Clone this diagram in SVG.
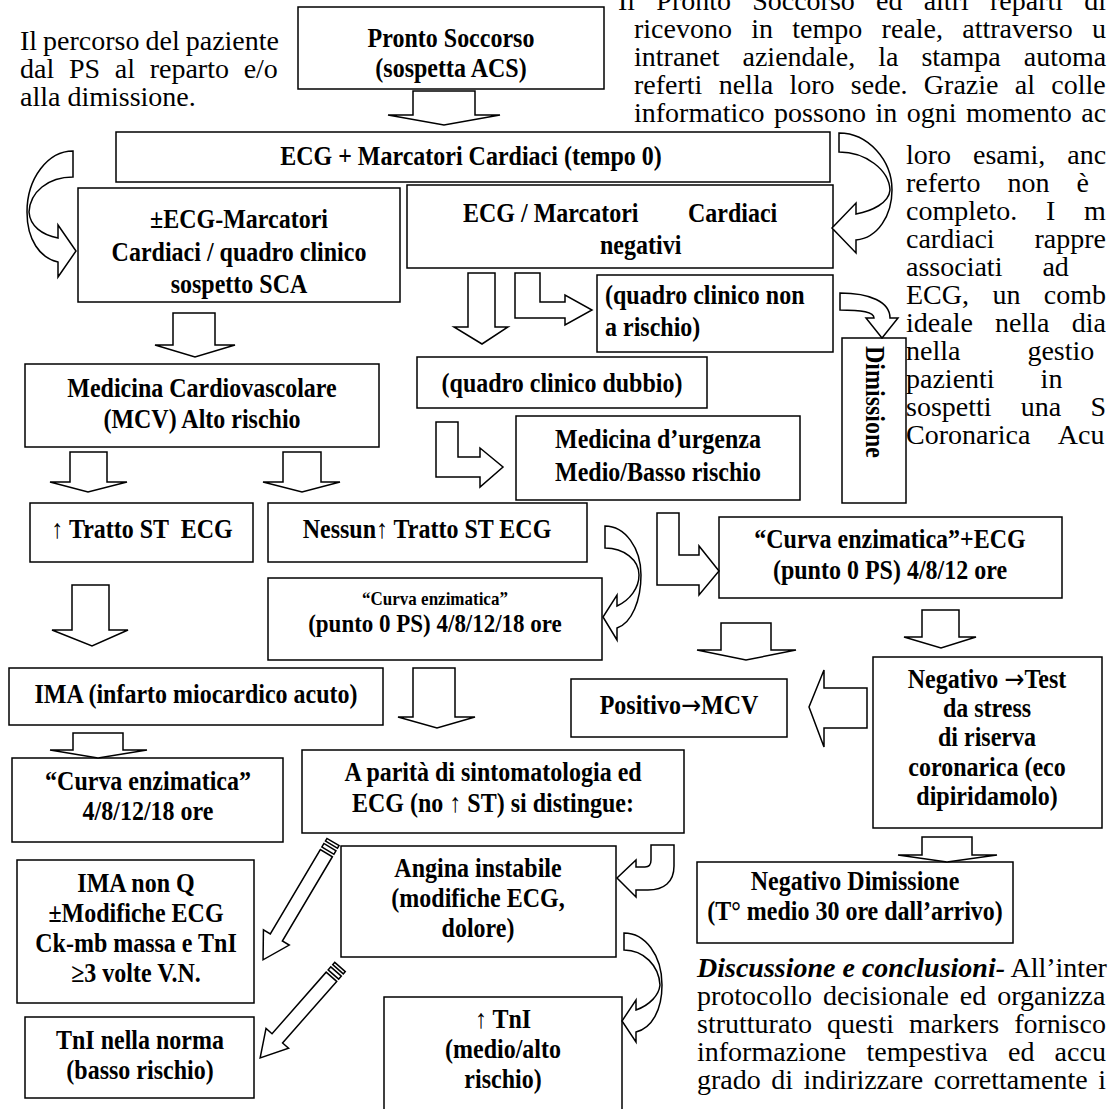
<svg xmlns="http://www.w3.org/2000/svg" width="1108" height="1109" viewBox="0 0 1108 1109">
<style>
.b{fill:#fff;stroke:#000;stroke-width:1.5}
.a{fill:#fff;stroke:#000;stroke-width:1.5;stroke-linejoin:miter}
.t{font-family:"Liberation Serif","Times New Roman",serif;font-weight:bold;font-size:24px;text-anchor:middle;fill:#000}
.l{text-anchor:start}
.p{font-family:"Liberation Serif","Times New Roman",serif;font-size:28px;fill:#000}
.ar{font-family:"DejaVu Sans",sans-serif;font-weight:normal}
</style>
<rect width="1108" height="1109" fill="#fff"/>
<g id="prose">
<text class="p" x="20" y="50" word-spacing="-1">Il percorso del paziente</text>
<text class="p" x="20" y="78" word-spacing="7.7">dal PS al reparto e/o</text>
<text class="p" x="20" y="106">alla dimissione.</text>
<text class="p" x="618" y="10" word-spacing="14.2">Il Pronto Soccorso ed altri reparti di</text>
<text class="p" x="634" y="38" word-spacing="12.3">ricevono in tempo reale, attraverso u</text>
<text class="p" x="634" y="66" word-spacing="16">intranet aziendale, la stampa automa</text>
<text class="p" x="634" y="94" word-spacing="9.3">referti nella loro sede. Grazie al colle</text>
<text class="p" x="634" y="122" word-spacing="2.5">informatico possono in ogni momento ac</text>
<text class="p" x="906" y="164" word-spacing="14.9">loro esami, anc</text>
<text class="p" x="906" y="192" word-spacing="20">referto non è</text>
<text class="p" x="906" y="220" word-spacing="21.8">completo. I m</text>
<text class="p" x="906" y="248" word-spacing="32.9">cardiaci rappre</text>
<text class="p" x="906" y="276" word-spacing="33">associati ad</text>
<text class="p" x="906" y="304" word-spacing="16.4">ECG, un comb</text>
<text class="p" x="906" y="332" word-spacing="15.2">ideale nella dia</text>
<text class="p" x="906" y="360" word-spacing="60">nella gestio</text>
<text class="p" x="906" y="388" word-spacing="39">pazienti in</text>
<text class="p" x="906" y="416" word-spacing="22.2">sospetti una S</text>
<text class="p" x="906" y="444" word-spacing="22">Coronarica Acu</text>
<text class="p" x="697" y="977"><tspan font-weight="bold" font-style="italic">Discussione e conclusioni-</tspan> All’inter</text>
<text class="p" x="697" y="1005" word-spacing="3.9">protocollo decisionale ed organizza</text>
<text class="p" x="697" y="1033" word-spacing="8">strutturato questi markers fornisco</text>
<text class="p" x="697" y="1061" word-spacing="13.2">informazione tempestiva ed accu</text>
<text class="p" x="697" y="1089" word-spacing="3.5">grado di indirizzare correttamente i</text>
</g>
<g id="nodes">
<g id="n-pronto"><rect class="b" x="298" y="7" width="306" height="82"/><text class="t" transform="translate(451,47) scale(1,1.1)">Pronto Soccorso</text><text class="t" transform="translate(451,77) scale(1,1.1)">(sospetta ACS)</text></g>
<g id="n-ecg0"><rect class="b" x="116" y="132" width="714" height="50"/><text class="t" transform="translate(471,165) scale(1,1.1)">ECG + Marcatori Cardiaci (tempo 0)</text></g>
<g id="n-sca"><rect class="b" x="78" y="188" width="322" height="114"/><text class="t" transform="translate(239,228) scale(1,1.1)">±ECG-Marcatori</text><text class="t" transform="translate(239,261) scale(1,1.1)">Cardiaci / quadro clinico</text><text class="t" transform="translate(239,293) scale(1,1.1)">sospetto SCA</text></g>
<g id="n-neg"><rect class="b" x="407" y="185" width="426" height="83"/><text class="t l" transform="translate(463,222) scale(1,1.1)">ECG / Marcatori</text><text class="t l" transform="translate(688,222) scale(1,1.1)">Cardiaci</text><text class="t l" transform="translate(600,254) scale(1,1.1)">negativi</text></g>
<g id="n-nonrischio"><rect class="b" x="597" y="275" width="236" height="77"/><text class="t l" transform="translate(605,304) scale(1,1.1)">(quadro clinico non</text><text class="t l" transform="translate(605,336) scale(1,1.1)">a rischio)</text></g>
<g id="n-dimissione"><rect class="b" x="842" y="338" width="64" height="165"/><text class="t" transform="translate(874,402) rotate(90) translate(0,8) scale(1,1.1)">Dimissione</text></g>
<g id="n-dubbio"><rect class="b" x="417" y="357" width="290" height="51"/><text class="t" transform="translate(562,392) scale(1,1.1)">(quadro clinico dubbio)</text></g>
<g id="n-mcv"><rect class="b" x="25" y="364" width="354" height="83"/><text class="t" transform="translate(202,397) scale(1,1.1)">Medicina Cardiovascolare</text><text class="t" transform="translate(202,428) scale(1,1.1)">(MCV) Alto rischio</text></g>
<g id="n-murg"><rect class="b" x="516" y="416" width="284" height="84"/><text class="t" transform="translate(658,448) scale(1,1.1)">Medicina d’urgenza</text><text class="t" transform="translate(658,481) scale(1,1.1)">Medio/Basso rischio</text></g>
<g id="n-stup"><rect class="b" x="30" y="503" width="223" height="59"/><text class="t" transform="translate(142,538) scale(1,1.1)" xml:space="preserve">↑ Tratto ST  ECG</text></g>
<g id="n-nessun"><rect class="b" x="268" y="503" width="319" height="59"/><text class="t" transform="translate(427,538) scale(1,1.1)">Nessun↑ Tratto ST ECG</text></g>
<g id="n-curvaecg"><rect class="b" x="719" y="517" width="343" height="81"/><text class="t" transform="translate(890,548) scale(1,1.1)">“Curva enzimatica”+ECG</text><text class="t" transform="translate(890,579) scale(1,1.1)">(punto 0 PS) 4/8/12 ore</text></g>
<g id="n-curva18"><rect class="b" x="268" y="578" width="334" height="82"/><text class="t" transform="translate(435,605) scale(1,1.1)" style="font-size:17px">“Curva enzimatica”</text><text class="t" transform="translate(435,632) scale(1,1.1)" style="font-size:23px">(punto 0 PS) 4/8/12/18 ore</text></g>
<g id="n-ima"><rect class="b" x="9" y="668" width="374" height="57"/><text class="t" transform="translate(196,703) scale(1,1.1)">IMA (infarto miocardico acuto)</text></g>
<g id="n-positivo"><rect class="b" x="571" y="679" width="216" height="58"/><text class="t" transform="translate(679,714) scale(1,1.1)">Positivo<tspan class="ar">→</tspan>MCV</text></g>
<g id="n-negtest"><rect class="b" x="873" y="657" width="229" height="171"/><text class="t" transform="translate(987,688) scale(1,1.1)">Negativo <tspan class="ar">→</tspan>Test</text><text class="t" transform="translate(987,717) scale(1,1.1)">da stress</text><text class="t" transform="translate(987,746) scale(1,1.1)">di riserva</text><text class="t" transform="translate(987,776) scale(1,1.1)">coronarica (eco</text><text class="t" transform="translate(987,805) scale(1,1.1)">dipiridamolo)</text></g>
<g id="n-curvaima"><rect class="b" x="12" y="758" width="271" height="84"/><text class="t" transform="translate(148,790) scale(1,1.1)">“Curva enzimatica”</text><text class="t" transform="translate(148,820) scale(1,1.1)">4/8/12/18 ore</text></g>
<g id="n-parita"><rect class="b" x="302" y="750" width="382" height="83"/><text class="t" transform="translate(493,781) scale(1,1.1)">A parità di sintomatologia ed</text><text class="t" transform="translate(493,812) scale(1,1.1)">ECG (no ↑ ST) si distingue:</text></g>
<g id="n-angina"><rect class="b" x="341" y="846" width="275" height="111"/><text class="t" transform="translate(478,877) scale(1,1.1)">Angina instabile</text><text class="t" transform="translate(478,907) scale(1,1.1)">(modifiche ECG,</text><text class="t" transform="translate(478,937) scale(1,1.1)">dolore)</text></g>
<g id="n-negdim"><rect class="b" x="697" y="862" width="316" height="81"/><text class="t" transform="translate(855,890) scale(1,1.1)">Negativo Dimissione</text><text class="t" transform="translate(855,920) scale(1,1.1)">(T° medio 30 ore dall’arrivo)</text></g>
<g id="n-imaq"><rect class="b" x="17" y="860" width="237" height="143"/><text class="t" transform="translate(136,892) scale(1,1.1)">IMA non Q</text><text class="t" transform="translate(136,922) scale(1,1.1)">±Modifiche ECG</text><text class="t" transform="translate(136,952) scale(1,1.1)">Ck-mb massa e TnI</text><text class="t" transform="translate(136,982) scale(1,1.1)">≥3 volte V.N.</text></g>
<g id="n-tninorm"><rect class="b" x="25" y="1017" width="229" height="81"/><text class="t" transform="translate(140,1049) scale(1,1.1)">TnI nella norma</text><text class="t" transform="translate(140,1079) scale(1,1.1)">(basso rischio)</text></g>
<g id="n-tniup"><rect class="b" x="384" y="997" width="238" height="130"/><text class="t" transform="translate(503,1028) scale(1,1.1)">↑ TnI</text><text class="t" transform="translate(503,1058) scale(1,1.1)">(medio/alto</text><text class="t" transform="translate(503,1088) scale(1,1.1)">rischio)</text></g>
</g>
<g id="connectors">
<polygon class="a" points="413,91 475,91 475,115 500,115 444,125 388,115 413,115"/>
<polygon class="a" points="173,313 215,313 215,345 235,345 195,357 155,345 173,345"/>
<polygon class="a" points="70,452 107,452 107,482 127,482 88,492 50,482 70,482"/>
<polygon class="a" points="283,452 321,452 321,482 340,482 302,492 263,482 283,482"/>
<polygon class="a" points="468,273 495,273 495,327 508,327 482,344 454,327 468,327"/>
<polygon class="a" points="72,585 109,585 109,630 128,630 92,646 52,630 72,630"/>
<polygon class="a" points="413,668 455,668 455,717 475,717 437,728 398,717 413,717"/>
<polygon class="a" points="73,733 123,733 123,750 147,750 98,758 50,750 73,750"/>
<polygon class="a" points="922,610 959,610 959,637 976,637 941,648 904,637 922,637"/>
<polygon class="a" points="721,623 771,623 771,650 796,650 746,660 697,650 721,650"/>
<polygon class="a" points="922,837 972,837 972,855 997,855 947,862 898,855 922,855"/>
<polygon class="a" points="867,688 867,728 824,728 824,747 809,707 824,670 824,688"/>
<polygon class="a" points="515,273 540,273 540,302 565,302 565,295 592,310 565,325 565,318 515,318"/>
<polygon class="a" points="436,422 458,422 458,457 480,457 480,448 503,467 480,487 480,477 436,477"/>
<polygon class="a" points="657,513 679,513 679,555 699,555 699,546 719,571 699,595 699,585 657,585"/>
<path class="a" d="M73,151 C48,151 27,178 27,212 C27,240 40,258 58,262 L58,277 L76,251 L58,225 L58,238 C42,235 30,226 29,212 C30,192 48,177 73,177 Z"/>
<path class="a" d="M839,133 C868,133 892,160 892,190 C892,215 878,238 856,240 L856,253 L832,228 L856,203 L856,214 C872,211 889,203 890,190 C889,170 866,152 839,152 Z"/>
<path class="a" d="M840,293 C870,293 890,302 890,318 L898,318 L882,338 L866,318 L874,318 C874,312 862,310 840,310 Z"/>
<path class="a" d="M605,526 C625,526 641,548 641,575 C641,600 632,623 617,628 L617,640 L603,617 L617,595 L617,606 C630,600 639,588 639,575 C639,560 624,548 605,548 Z"/>
<path class="a" d="M651,845 L674,845 L674,866 C674,882 664,890 648,890 L636,890 L636,897 L617,878 L636,860 L636,867 L645,867 C649,867 651,864 651,860 Z"/>
<path class="a" d="M624,933 C645,933 662,955 662,985 C662,1010 652,1028 636,1032 L636,1042 L622,1021 L636,1000 L636,1010 C650,1005 659,995 660,985 C659,966 644,950 624,950 Z"/>
<g transform="translate(333,842) rotate(120.7)"><rect class="a" x="0" y="-7" width="3" height="14"/><rect class="a" x="6" y="-7" width="4" height="14"/><polygon class="a" points="13,-7 111,-7 111,-15 137,0 111,15 111,7 13,7"/></g>
<g transform="translate(340,967) rotate(131.3)"><rect class="a" x="0" y="-7" width="3" height="14"/><rect class="a" x="6" y="-7" width="4" height="14"/><polygon class="a" points="13,-7 95,-7 95,-15 121,0 95,15 95,7 13,7"/></g>
</g>
</svg>
